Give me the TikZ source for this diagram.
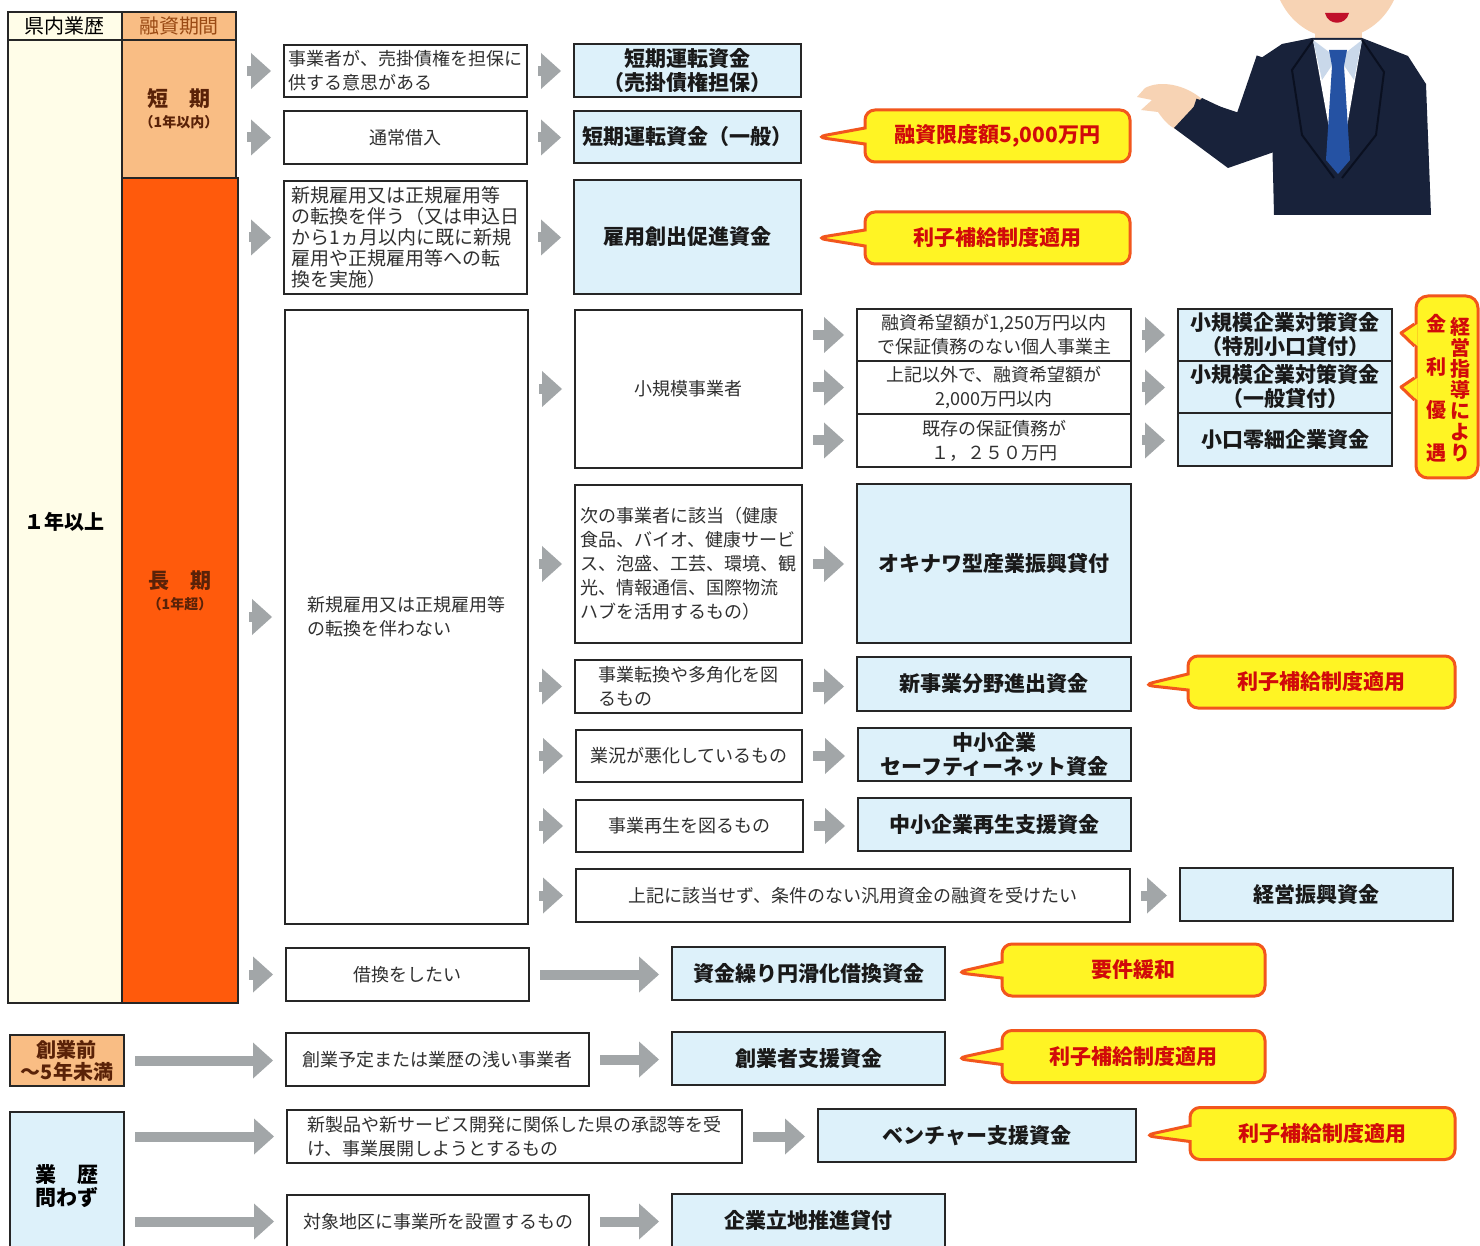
\documentclass[tikz,border=0pt]{standalone}
\usepackage{fontspec}
\setmainfont{Noto Sans CJK JP}
\usetikzlibrary{arrows.meta, calc, shapes.callouts}

\definecolor{boxline}{HTML}{262626}
\definecolor{condtext}{HTML}{303030}
\definecolor{fundblue}{HTML}{DDF1FA}
\definecolor{arrowgray}{HTML}{A2A6A8}
\definecolor{noteyellow}{HTML}{FFF424}
\definecolor{notered}{HTML}{F2561D}
\definecolor{notetext}{HTML}{D10A0A}
\definecolor{cream}{HTML}{FFFDE8}
\definecolor{lightorange}{HTML}{F9BD84}
\definecolor{deeporange}{HTML}{FF5A0C}
\definecolor{hdbrown}{HTML}{9A4A14}
\definecolor{darkbrown}{HTML}{5A2208}
\definecolor{jacket}{HTML}{18223A}
\definecolor{lapel}{HTML}{0A1020}
\definecolor{skin}{HTML}{F7D3B4}
\definecolor{collar}{HTML}{C9D8EA}
\definecolor{tie}{HTML}{2552A3}
\definecolor{mouthred}{HTML}{C0102A}

\begin{document}
\begin{tikzpicture}[x=0.5pt, y=-0.5pt,
    tcell/.style={draw=boxline, line width=1pt, inner sep=0pt, align=center},
    cond/.style={draw=boxline, line width=1pt, fill=white, text=condtext, inner sep=1pt,
      align=center, font=\fontsize{9}{12}\selectfont},
    fund/.style={draw=boxline, line width=1pt, fill=fundblue, text=black!90, inner sep=1pt,
      align=center, font=\fontsize{10.5}{12}\selectfont\bfseries},
    note/.style={rectangle callout, rounded corners=5pt, draw=notered, line width=1.5pt,
      fill=noteyellow, text=notetext, callout pointer width=8pt,
      minimum width=132.5pt, minimum height=26pt, font=\fontsize{10.5}{12}\selectfont\bfseries},
    vtext/.style={text=notetext, inner sep=0pt, align=center},
    go/.style={draw=arrowgray, line width=5pt, shorten <=5pt, shorten >=6pt,
      -{Triangle[length=10pt, width=18pt, line width=0pt]}},
  ]
  \useasboundingbox (0,0) rectangle (1480,1246);
  \clip (0,0) rectangle (1480,1246);
  \fill[white] (0,0) rectangle (1480,1246);

  \fill[skin] (1337,-32) ellipse [x radius=64, y radius=70];
  \fill[skin] (1315,20) rectangle (1362,50);
  \fill[mouthred] (1325,13) .. controls (1328,26) and (1346,26) .. (1349,13) -- cycle;
  \fill[skin] (1203,100) .. controls (1185,84) and (1160,80) .. (1145,88) -- (1137,97) -- (1152,100)
    -- (1141,110) -- (1158,112) .. controls (1165,122) and (1170,127) .. (1178,130) -- cycle;
  \fill[jacket] (1282,44) -- (1255,62) -- (1240,116) -- (1202,98) -- (1174,128) -- (1228,168) -- (1274,152) -- cycle;
  \draw[jacket, line width=14pt, line join=round] (1270,60) -- (1246,130) -- (1192,112);
  \fill[jacket] (1274,215) -- (1272,130) -- (1266,70) -- (1282,44) -- (1312,38) -- (1362,38)
    -- (1408,56) -- (1426,84) -- (1431,215) -- cycle;
  \fill[white] (1313,40) -- (1362,40) -- (1343,150) -- (1333,150) -- cycle;
  \fill[collar] (1313,40) -- (1337,58) -- (1322,80) -- cycle;
  \fill[collar] (1362,40) -- (1339,58) -- (1354,80) -- cycle;
  \fill[tie] (1329,50) -- (1347,50) -- (1344,66) -- (1332,66) -- cycle;
  \fill[tie] (1332,66) -- (1344,66) -- (1350,160) -- (1338,174) -- (1326,160) -- cycle;
  \draw[lapel, line width=1pt] (1313,40) -- (1292,70) -- (1302,135) -- (1334,178);
  \draw[lapel, line width=1pt] (1362,40) -- (1384,72) -- (1376,135) -- (1342,178);

  \node[tcell, fill=cream, minimum width=57pt, minimum height=14pt, font=\fontsize{10}{12}\selectfont] (hdA) at (65,26) {県内業歴};
  \node[tcell, fill=lightorange, text=hdbrown, minimum width=57pt, minimum height=14pt, font=\fontsize{10}{12}\selectfont] (hdB) at (179,26) {融資期間};
  \node[tcell, fill=cream, minimum width=57pt, minimum height=481.5pt, font=\fontsize{10}{12}\selectfont\bfseries] (over1) at (65,521.5) {１年以上};
  \node[tcell, fill=lightorange, text=darkbrown, minimum width=57pt, minimum height=69pt, font=\fontsize{10.5}{12}\selectfont\bfseries] (short) at (179,109) {短　期\\[-1.5pt]{\fontsize{7}{8}\selectfont （1年以内）}};
  \node[tcell, fill=deeporange, text=darkbrown, minimum width=58pt, minimum height=412.5pt, font=\fontsize{10.5}{12}\selectfont\bfseries] (long) at (180,590.5) {長　期\\[-1.5pt]{\fontsize{7}{8}\selectfont （1年超）}};

  \node[cond, minimum width=121.5pt, minimum height=26pt, align=left] (c1) at (405.5,71) {事業者が、売掛債権を担保に\\供する意思がある};
  \node[cond, minimum width=121.5pt, minimum height=26.5pt] (c2) at (405.5,137.5) {通常借入};
  \node[cond, minimum width=121.5pt, minimum height=56.5pt, align=left, font=\fontsize{9.5}{10.5}\selectfont] (c3) at (405.5,237.5) {新規雇用又は正規雇用等\\の転換を伴う（又は申込日\\から1ヵ月以内に既に新規\\雇用や正規雇用等への転\\換を実施）};
  \node[cond, minimum width=121.5pt, minimum height=307pt, align=left] (c4) at (406.5,617) {新規雇用又は正規雇用等\\の転換を伴わない};
  \node[cond, minimum width=121.5pt, minimum height=26.5pt] (c5) at (407.5,974.5) {借換をしたい};

  \node[fund, minimum width=113.5pt, minimum height=26.5pt] (r1) at (687.5,70.5) {短期運転資金\\（売掛債権担保）};
  \node[fund, minimum width=113.5pt, minimum height=26pt] (r2) at (687.5,137) {短期運転資金（一般）};
  \node[fund, minimum width=113.5pt, minimum height=57pt] (r3) at (687.5,237) {雇用創出促進資金};

  \node[cond, minimum width=113.5pt, minimum height=79pt] (s1) at (688.5,389) {小規模事業者};
  \node[cond, minimum width=113.5pt, minimum height=79pt, align=left] (s2) at (688.5,564) {次の事業者に該当（健康\\食品、バイオ、健康サービ\\ス、泡盛、工芸、環境、観\\光、情報通信、国際物流\\ハブを活用するもの）};
  \node[cond, minimum width=113.5pt, minimum height=26.5pt, align=left] (s3) at (688.5,686.5) {事業転換や多角化を図\\るもの};
  \node[cond, minimum width=113pt, minimum height=26pt] (s4) at (689,756) {業況が悪化しているもの};
  \node[cond, minimum width=113.5pt, minimum height=26pt] (s5) at (689.5,826) {事業再生を図るもの};
  \node[cond, minimum width=277pt, minimum height=26.5pt] (s6) at (853,895.5) {上記に該当せず、条件のない汎用資金の融資を受けたい};

  \node[cond, minimum width=137pt, minimum height=26pt] (t1) at (994,335) {融資希望額が1,250万円以内\\で保証債務のない個人事業主};
  \node[cond, minimum width=137pt, minimum height=26.5pt] (t2) at (994,387.5) {上記以外で、融資希望額が\\2,000万円以内};
  \node[cond, minimum width=137pt, minimum height=26.5pt] (t3) at (994,440.5) {既存の保証債務が\\１，２５０万円};
  \node[fund, minimum width=137pt, minimum height=79.5pt] (okinawa) at (994,563.5) {オキナワ型産業振興貸付};
  \node[fund, minimum width=137pt, minimum height=27pt] (newbiz) at (994,684) {新事業分野進出資金};
  \node[fund, minimum width=136.5pt, minimum height=26.5pt] (safety) at (994.5,754.5) {中小企業\\セーフティーネット資金};
  \node[fund, minimum width=136.5pt, minimum height=26.5pt] (rebuild) at (994.5,824.5) {中小企業再生支援資金};

  \node[fund, minimum width=107pt, minimum height=26pt] (u1) at (1285,335) {小規模企業対策資金\\（特別小口貸付）};
  \node[fund, minimum width=107pt, minimum height=26pt] (u2) at (1285,387) {小規模企業対策資金\\（一般貸付）};
  \node[fund, minimum width=107pt, minimum height=26.5pt] (u3) at (1285,439.5) {小口零細企業資金};
  \node[fund, minimum width=136.5pt, minimum height=26.5pt] (keiei) at (1316.5,894.5) {経営振興資金};
  \node[fund, minimum width=136.5pt, minimum height=26.5pt] (karikae) at (808.5,973.5) {資金繰り円滑化借換資金};

  \node[tcell, fill=lightorange, text=darkbrown, minimum width=57pt, minimum height=25.5pt, font=\fontsize{10}{11}\selectfont\bfseries] (startup) at (67,1060.5) {創業前\\～5年未満};
  \node[tcell, fill=fundblue, minimum width=57pt, minimum height=74pt, align=left, font=\fontsize{10.5}{11.5}\selectfont\bfseries] (anyage) at (67,1186) {業　歴\\問わず};
  \node[cond, minimum width=151.5pt, minimum height=26.5pt] (d1) at (437.5,1059.5) {創業予定または業歴の浅い事業者};
  \node[cond, minimum width=227.5pt, minimum height=26.5pt, align=left] (d2) at (514.5,1136.5) {新製品や新サービス開発に関係した県の承認等を受\\け、事業展開しようとするもの};
  \node[cond, minimum width=151pt, minimum height=26.5pt] (d3) at (438,1221.5) {対象地区に事業所を設置するもの};
  \node[fund, minimum width=136.5pt, minimum height=26.5pt] (e1) at (808.5,1058.5) {創業者支援資金};
  \node[fund, minimum width=159pt, minimum height=26.5pt] (e2) at (977,1135.5) {ベンチャー支援資金};
  \node[fund, minimum width=136.5pt, minimum height=26.5pt] (e3) at (808.5,1220.5) {企業立地推進貸付};

  \node[note, callout absolute pointer={($(r2.east)+(14,0)$)}] (n1) at (997.5,136) {融資限度額5,000万円};
  \node[note, callout absolute pointer={($(r3.east)+(14,1)$)}] (n2) at (997.5,238) {利子補給制度適用};
  \node[note, minimum width=133.5pt, callout absolute pointer={($(newbiz.east)+(11,1)$)}] (n3) at (1321.5,682) {利子補給制度適用};
  \node[note, minimum width=131.5pt, callout absolute pointer={($(karikae.east)+(10,-1)$)}] (n4) at (1133.5,970) {要件緩和};
  \node[note, minimum width=131.5pt, callout absolute pointer={($(e1.east)+(10,0)$)}] (n5) at (1133.5,1056.5) {利子補給制度適用};
  \node[note, callout absolute pointer={($(e2.east)+(7,0)$)}] (n6) at (1322.5,1133.5) {利子補給制度適用};

  \node[rounded corners=6pt, draw=notered, line width=1.5pt, fill=noteyellow, minimum width=31pt, minimum height=91pt] (guide) at (1447,387) {};
  \fill[noteyellow] ($(guide.west)+(3,-63)$) -- ($(u1.east)+(8,-2)$) -- ($(guide.west)+(3,-41)$) -- cycle;
  \draw[notered, line width=1.5pt, line join=round] ($(guide.west)+(0,-63)$) -- ($(u1.east)+(8,-2)$) -- ($(guide.west)+(0,-41)$);
  \fill[noteyellow] ($(guide.west)+(3,-9)$) -- ($(u2.east)+(8,0)$) -- ($(guide.west)+(3,13)$) -- cycle;
  \draw[notered, line width=1.5pt, line join=round] ($(guide.west)+(0,-9)$) -- ($(u2.east)+(8,0)$) -- ($(guide.west)+(0,13)$);
  \node[vtext, font=\fontsize{10}{10.5}\selectfont\bfseries] (g1) at ($(guide.center)+(13,3)$) {経\\営\\指\\導\\に\\よ\\り};
  \node[vtext, font=\fontsize{10}{21.5}\selectfont\bfseries] (g2) at ($(guide.center)+(-11,1)$) {金\\利\\優\\遇};

  \draw[go] (short.east |- c1.west) -- (c1.west);
  \draw[go] (short.east |- c2.west) -- (c2.west);
  \draw[go] (long.east |- c3.west) -- (c3.west);
  \draw[go] (long.east |- c4.west) -- (c4.west);
  \draw[go] (long.east |- c5.west) -- (c5.west);
  \draw[go] (c1.east) -- (c1.east -| r1.west);
  \draw[go] (c2.east) -- (c2.east -| r2.west);
  \draw[go] (c3.east) -- (c3.east -| r3.west);
  \draw[go] (c5.east) -- (c5.east -| karikae.west);
  \draw[go] (c4.east |- s1.west) -- (s1.west);
  \draw[go] (c4.east |- s2.west) -- (s2.west);
  \draw[go] (c4.east |- s3.west) -- (s3.west);
  \draw[go] (c4.east |- s4.west) -- (s4.west);
  \draw[go] (c4.east |- s5.west) -- (s5.west);
  \draw[go] (c4.east |- s6.west) -- (s6.west);
  \draw[go] (s1.east |- t1.west) -- (t1.west);
  \draw[go] (s1.east |- t2.west) -- (t2.west);
  \draw[go] (s1.east |- t3.west) -- (t3.west);
  \draw[go] (t1.east) -- (t1.east -| u1.west);
  \draw[go] (t2.east) -- (t2.east -| u2.west);
  \draw[go] (t3.east) -- (t3.east -| u3.west);
  \draw[go] (s2.east) -- (s2.east -| okinawa.west);
  \draw[go] (s3.east) -- (s3.east -| newbiz.west);
  \draw[go] (s4.east) -- (s4.east -| safety.west);
  \draw[go] (s5.east) -- (s5.east -| rebuild.west);
  \draw[go] (s6.east) -- (s6.east -| keiei.west);
  \draw[go] (startup.east) -- (startup.east -| d1.west);
  \draw[go] (d1.east) -- (d1.east -| e1.west);
  \draw[go] (anyage.east |- d2.west) -- (d2.west);
  \draw[go] (d2.east) -- (d2.east -| e2.west);
  \draw[go] (anyage.east |- d3.west) -- (d3.west);
  \draw[go] (d3.east) -- (d3.east -| e3.west);
\end{tikzpicture}
\end{document}
